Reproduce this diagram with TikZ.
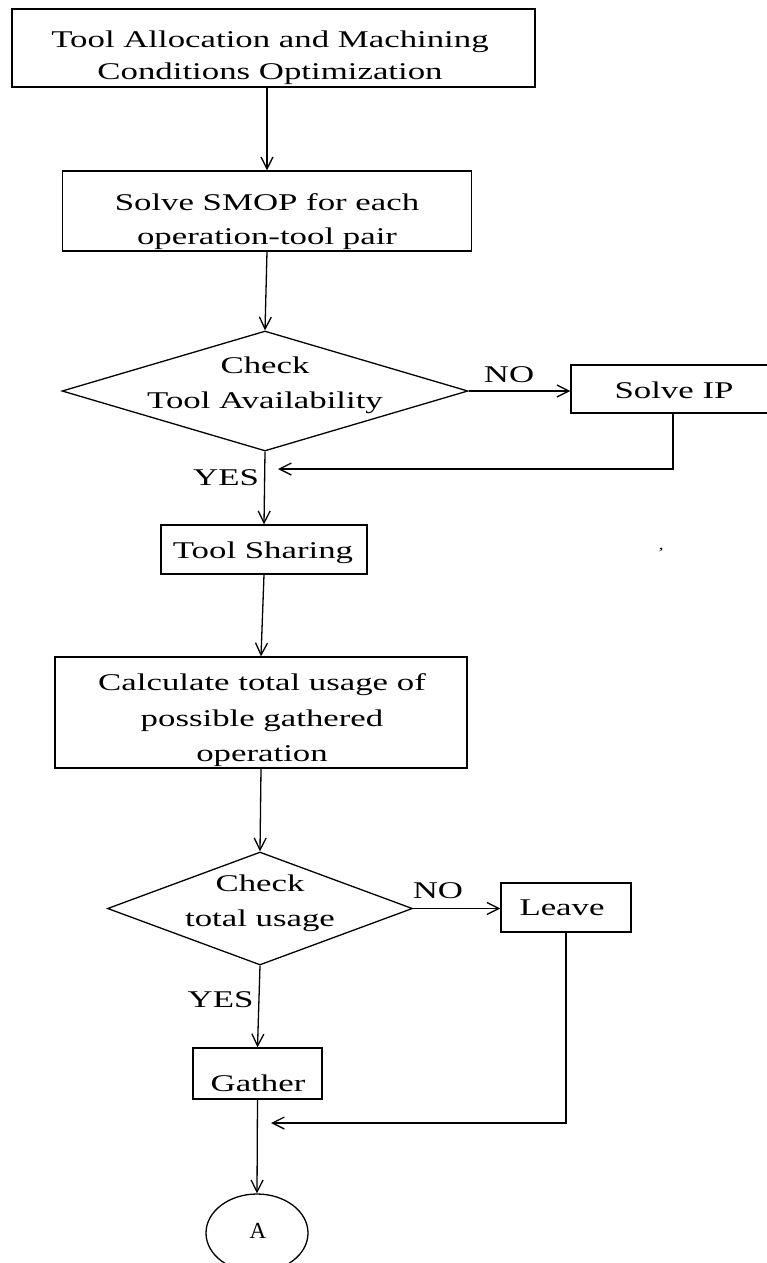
\documentclass[tikz,border=0pt]{standalone}
\usepackage{fontspec}
\setmainfont{Liberation Serif}[FakeStretch=1.45]
\newfontfamily\plainserif{Liberation Serif}
\usetikzlibrary{shapes.geometric,arrows.meta}
\begin{document}
\begin{tikzpicture}[x=1pt,y=-1pt,
  box/.style={draw,line width=1.3pt,rectangle,inner sep=0pt},
  dia/.style={draw,line width=1.3pt,diamond,inner sep=0pt},
  txt/.style={inner sep=0pt,anchor=base,font=\fontsize{24}{30}\selectfont},
  arr/.style={line width=1.3pt,-{Straight Barb[length=12pt,width=12pt,line width=1.3pt]}}]
\useasboundingbox (0,0) rectangle (767,1263);
% boxes and texts
\node[box,minimum width=523pt,minimum height=78pt] (b1) at (273.5,48) {};
\node[txt] (t1a) at (270,48) {Tool Allocation and Machining};
\node[txt] (t1b) at (270,79) {Conditions Optimization};
\node[box,minimum width=409pt,minimum height=80pt] (b2) at (267,211) {};
\node[txt] (t2a) at (267,210) {Solve SMOP for each};
\node[txt] (t2b) at (267,244) {operation-tool pair};
\node[dia,minimum width=406pt,minimum height=120pt] (d1) at (265,391) {};
\node[txt] (t3a) at (265,373) {Check};
\node[txt] (t3b) at (265,408) {Tool Availability};
\node[box,minimum width=204pt,minimum height=48pt] (ip) at (673,389) {};
\node[txt] (t4) at (674,398) {Solve IP};
\node[txt] (no1) at (509,382) {NO};
\node[txt] (yes1) at (226,485) {YES};
\node[box,minimum width=206pt,minimum height=49pt] (ts) at (264,549.5) {};
\node[txt] (t5) at (263,558) {Tool Sharing};
\node[box,minimum width=412pt,minimum height=111pt] (calc) at (261,712.5) {};
\node[txt] (t6a) at (262,690) {Calculate total usage of};
\node[txt] (t6b) at (262,726) {possible gathered};
\node[txt] (t6c) at (262,761) {operation};
\node[dia,minimum width=305pt,minimum height=113pt] (d2) at (260,908.5) {};
\node[txt] (t7a) at (260,891) {Check};
\node[txt] (t7b) at (260,926) {total usage};
\node[txt] (no2) at (438,898) {NO};
\node[box,minimum width=130pt,minimum height=49pt] (leave) at (566,907.5) {};
\node[txt] (t8) at (562,915) {Leave};
\node[txt] (yes2) at (220.5,1007) {YES};
\node[box,minimum width=129pt,minimum height=51pt] (gather) at (257.5,1073.5) {};
\node[txt] (t9) at (258,1091) {Gather};
\node[draw,ellipse,line width=1.3pt,minimum width=102pt,minimum height=78pt,inner sep=0pt] (A) at (257,1233) {};
\node[inner sep=0pt,anchor=base,font=\plainserif\fontsize{23}{26}\selectfont] (tA) at (258,1238) {A};
\node[inner sep=0pt,font=\fontsize{14}{16}\selectfont] (speck) at (661,553) {'};
% connectors
\coordinate (j1) at (278,469);
\coordinate (j2) at (271,1123);
\draw[arr] (b1.south -| b2.north) -- (b2.north);
\draw[arr] (b2.south) -- (d1.north);
\draw[arr] (d1.east) -- (d1.east -| ip.west);
\draw[arr] (ip.south) |- (j1);
\draw[arr] (d1.south) -- (ts.north);
\draw[arr] (ts.south) -- (calc.north);
\draw[arr] (calc.south) -- (d2.north);
\draw[arr] (d2.east) -- (d2.east -| leave.west);
\draw[arr] (leave.south) |- (j2);
\draw[arr] (d2.south) -- (gather.north);
\draw[arr] (gather.south) -- (A.north);
\end{tikzpicture}
\end{document}
